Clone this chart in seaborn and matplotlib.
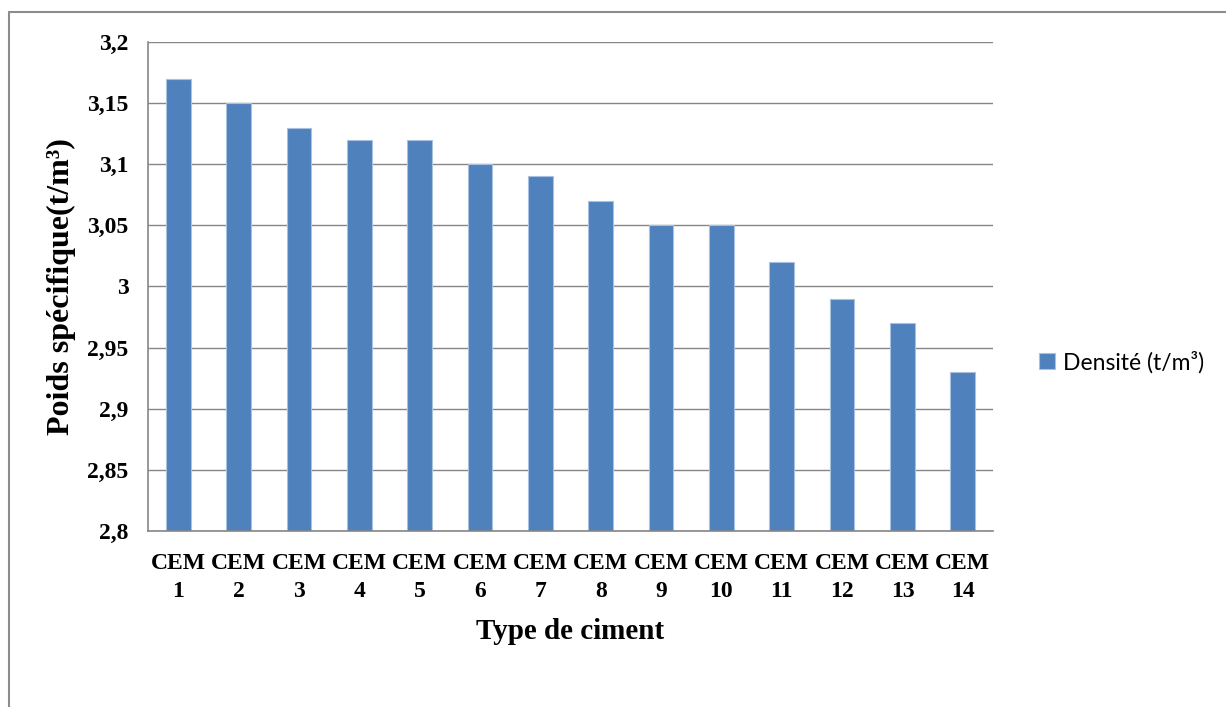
import numpy as np
import pandas as pd
import matplotlib
matplotlib.use('Agg')
import matplotlib.pyplot as plt
import seaborn as sns
from matplotlib.ticker import FuncFormatter, MultipleLocator
from matplotlib.lines import Line2D

# data
types = ['CEM\n%d' % i for i in range(1, 15)]
densite = [3.17, 3.15, 3.13, 3.12, 3.12, 3.10, 3.09, 3.07, 3.05, 3.05, 3.02, 2.99, 2.97, 2.93]

df = pd.DataFrame({'type': types, 'densite': densite})

sns.set_style('white', {'text.color': 'black', 'axes.labelcolor': 'black',
                        'xtick.color': 'black', 'ytick.color': 'black'})
plt.rcParams['font.family'] = ['Liberation Serif', 'DejaVu Serif']

fig = plt.figure(figsize=(12.26, 7.07), dpi=100)
ax = fig.add_axes([148 / 1226, 1 - 531 / 707, 845 / 1226, 489 / 707])

sns.barplot(data=df, x='type', y='densite', color='#4F81BD', width=0.41,
            edgecolor='#A9C1E0', linewidth=0.8, saturation=1,
            label='Densité (t/m³)', ax=ax)

ax.set_ylim(2.8, 3.2)
ax.yaxis.set_major_locator(MultipleLocator(0.05))
ax.yaxis.set_major_formatter(FuncFormatter(lambda v, p: ('%g' % round(v, 2)).replace('.', ',')))
ax.grid(axis='y', color='#868686', linewidth=1)
ax.set_axisbelow(True)

for s in ['top', 'right']:
    ax.spines[s].set_visible(False)
for s in ['left', 'bottom']:
    ax.spines[s].set_color('#868686')
    ax.spines[s].set_linewidth(1.2)

ax.tick_params(axis='y', length=0, pad=14, labelsize=17, labelcolor='black')
ax.tick_params(axis='x', length=0, pad=16, labelsize=17, labelcolor='black')
for lab in ax.get_xticklabels() + ax.get_yticklabels():
    lab.set_fontweight('bold')
    lab.set_linespacing(1.4)

ax.set_xlabel('Type de ciment', fontsize=21, fontweight='bold', labelpad=12, color='black')
ax.set_ylabel('Poids spécifique(t/m³)', fontsize=23, fontweight='bold', labelpad=8, color='black')

leg = ax.legend(loc='center left', bbox_to_anchor=(1018 / 1226, 1 - 362 / 707),
                bbox_transform=fig.transFigure, frameon=False,
                prop={'family': 'Lato', 'size': 16.5}, handlelength=0.7,
                handleheight=0.7, handletextpad=0.35, labelcolor='black')

# outer chart frame
fig.add_artist(Line2D([8.5 / 1226, 8.5 / 1226], [0, 1 - 12 / 707], color='#8C8C8C', linewidth=1.5))
fig.add_artist(Line2D([8.5 / 1226, 1], [1 - 12 / 707, 1 - 12 / 707], color='#8C8C8C', linewidth=1.5))

fig.savefig('out.png', dpi=100)
